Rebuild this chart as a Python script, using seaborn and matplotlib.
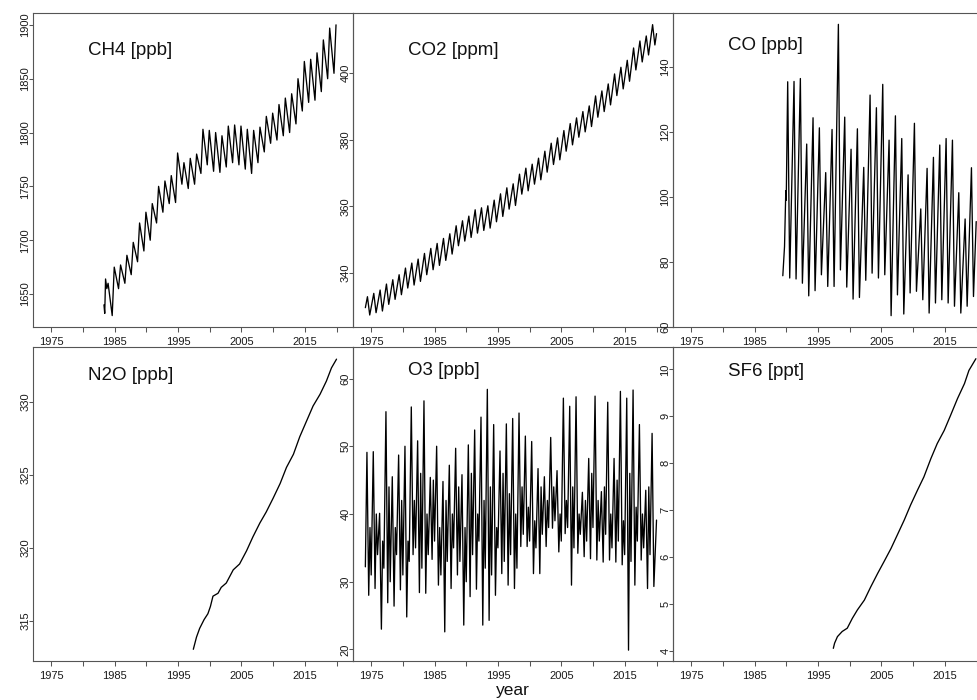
import numpy as np
import pandas as pd
import matplotlib
matplotlib.use("Agg")
import matplotlib.pyplot as plt
import seaborn as sns

# ---------------- data ----------------
# CH4 [ppb]: irregular start, then yearly seasonal minimum / maximum
ch4_head_t = [1983.30, 1983.42, 1983.55, 1983.75, 1983.95]
ch4_head_v = [1640, 1632, 1664, 1655, 1660]
ch4_years = list(range(1984, 2020))
ch4_trough = [1630, 1655, 1660, 1668, 1680, 1690, 1700, 1716, 1726, 1734, 1735, 1752,
              1748, 1752, 1762, 1770, 1764, 1763, 1768, 1772, 1770, 1766, 1762, 1772,
              1782, 1790, 1793, 1797, 1800, 1808, 1820, 1828, 1830, 1838, 1850, 1855]
ch4_peak = [1675, 1677, 1686, 1698, 1716, 1726, 1734, 1750, 1755, 1760, 1781, 1772,
            1776, 1780, 1803, 1802, 1800, 1797, 1806, 1807, 1806, 1803, 1802, 1805,
            1815, 1818, 1826, 1832, 1836, 1850, 1866, 1868, 1874, 1886, 1897, 1900]

# CO2 [ppm]: yearly spring maximum / autumn minimum
co2_head_t, co2_head_v = [1974.05], [329.6]
co2_years = list(range(1974, 2020))
co2_peak = [332.9, 333.9, 334.9, 336.7, 338.0, 339.5, 341.5, 343.0, 344.2, 345.9,
            347.4, 348.9, 350.4, 351.8, 354.2, 355.7, 357.1, 359.0, 359.6, 360.2,
            361.9, 363.8, 365.6, 366.8, 369.7, 371.5, 372.7, 374.5, 376.6, 379.0,
            380.6, 382.8, 384.9, 386.6, 388.5, 390.2, 393.2, 394.7, 396.8, 399.8,
            401.8, 403.9, 407.6, 409.7, 411.2, 414.6]
co2_trough = [327.4, 328.1, 328.6, 330.6, 332.1, 333.5, 335.5, 336.4, 337.5, 339.5,
              341.0, 342.3, 343.8, 345.7, 348.2, 349.6, 350.7, 352.0, 352.8, 353.5,
              355.4, 357.0, 359.2, 360.3, 363.7, 364.7, 366.7, 368.0, 370.3, 372.6,
              374.0, 376.6, 378.5, 380.8, 382.4, 384.0, 386.8, 388.5, 390.5, 393.3,
              395.3, 397.6, 401.0, 403.4, 405.5, 408.5]
co2_tail_t, co2_tail_v = [2020.0], [411.9]

# CO [ppb]
co_head_t = [1989.43, 1989.70, 1989.90, 1989.97]
co_head_v = [75.7, 84.7, 101.9, 99.0]
co_years = list(range(1990, 2020))
co_peak = [135.5, 135.6, 136.5, 116.3, 124.4, 121.3, 107.5, 120.8, 153.2, 124.6,
           114.7, 121.0, 109.1, 131.4, 127.5, 134.7, 117.5, 125.0, 118.0, 106.8,
           122.7, 96.3, 108.8, 112.2, 116.0, 118.0, 117.5, 101.3, 93.2, 109.0]
co_trough = [75.0, 74.7, 73.4, 69.5, 71.1, 76.0, 72.4, 72.4, 77.5, 72.2,
             68.5, 69.0, 74.3, 76.5, 75.0, 76.0, 63.4, 69.8, 63.9, 70.4,
             70.9, 68.3, 64.2, 67.3, 68.3, 67.3, 66.3, 64.2, 66.3, 69.3]
co_tail_t, co_tail_v = [2019.95], [92.4]

# N2O [ppb]
n2o_t = [1997.4, 1997.9, 1998.4, 1999.1, 1999.7, 2000.1, 2000.5, 2001.3, 2001.8, 2002.6,
         2003.7, 2004.7, 2005.8, 2006.8, 2007.9, 2008.9, 2010.0, 2011.1, 2012.1, 2013.2,
         2014.2, 2015.3, 2016.3, 2017.4, 2018.4, 2019.2, 2020.0]
n2o_v = [313.07, 313.9, 314.5, 315.1, 315.5, 316.0, 316.7, 316.9, 317.3, 317.6,
         318.5, 318.9, 319.8, 320.75, 321.7, 322.45, 323.4, 324.4, 325.5, 326.4,
         327.6, 328.7, 329.7, 330.5, 331.4, 332.3, 332.9]

# O3 [ppb]
o3_head_t, o3_head_v = [1974.05], [32.2]
o3_years = list(range(1974, 2020))
o3_peak = [49.1, 49.2, 40.1, 55.1, 45.5, 48.7, 50.0, 55.8, 50.8, 56.7, 45.4, 50.0,
           44.8, 47.2, 49.7, 45.8, 50.2, 52.4, 54.3, 58.4, 53.2, 49.3, 53.3, 54.1,
           54.9, 51.5, 50.7, 46.7, 45.5, 51.3, 46.4, 57.1, 55.9, 57.3, 43.2, 48.2,
           57.4, 43.3, 56.5, 48.2, 58.1, 57.1, 58.3, 53.2, 43.5, 51.9]
o3_trough = [28.0, 29.0, 23.0, 26.9, 26.4, 28.8, 24.8, 34.0, 28.4, 28.3, 33.3, 29.5,
             22.6, 29.0, 31.0, 23.6, 27.8, 28.9, 23.6, 24.3, 28.0, 31.2, 29.5, 29.0,
             35.2, 35.2, 31.2, 31.2, 35.2, 37.9, 34.4, 37.1, 29.5, 34.2, 33.7, 33.4,
             33.2, 32.9, 33.2, 32.9, 32.5, 19.9, 29.5, 33.2, 29.0, 29.3]
o3_mid = [38, 40, 36, 44, 38, 42, 36, 42, 46, 40, 45, 38, 42, 40, 44, 38, 46, 40,
          42, 44, 38, 46, 43, 40, 44, 41, 39, 44, 42, 44, 40, 42, 44, 40, 42, 46,
          42, 44, 40, 45, 39, 46, 41, 40, 44]
o3_low2 = [31, 34, 32, 30, 34, 31, 33, 35, 32, 34, 36, 31, 33, 35, 33, 30, 34, 36,
           32, 31, 35, 33, 34, 32, 37, 36, 35, 37, 38, 39, 36, 38, 35, 37, 36, 38,
           36, 37, 35, 36, 34, 33, 36, 35, 34]
o3_tail_t, o3_tail_v = [2020.0], [39.1]

# SF6 [ppt]
sf6_t = [1997.4, 1997.6, 1998.05, 1998.8, 1999.6, 2000.4, 2001.2, 2002.3, 2003.3, 2004.4,
         2005.4, 2006.5, 2007.5, 2008.6, 2009.6, 2010.7, 2011.7, 2012.8, 2013.8, 2014.9,
         2015.9, 2017.0, 2018.1, 2018.8, 2019.9]
sf6_v = [4.05, 4.16, 4.30, 4.41, 4.48, 4.69, 4.87, 5.08, 5.36, 5.65,
         5.90, 6.18, 6.47, 6.79, 7.11, 7.43, 7.71, 8.10, 8.42, 8.70,
         9.02, 9.38, 9.70, 9.98, 10.23]

panel_labels = ["CH4 [ppb]", "CO2 [ppm]", "CO [ppb]", "N2O [ppb]", "O3 [ppb]", "SF6 [ppt]"]
y_ticks = [[1650, 1700, 1750, 1800, 1850, 1900], [340, 360, 380, 400],
           [60, 80, 100, 120, 140], [315, 320, 325, 330],
           [20, 30, 40, 50, 60], [4, 5, 6, 7, 8, 9, 10]]
y_limits = [(1619.4, 1911.0), (323.8, 418.1), (59.9, 156.7),
            (312.27, 333.73), (18.3, 64.65), (3.78, 10.48)]
x_ticks = [1975, 1980, 1985, 1990, 1995, 2000, 2005, 2010, 2015, 2020]
x_tick_labels = ["1975", "", "1985", "", "1995", "", "2005", "", "2015", ""]
x_limits = (1972.1, 2022.6)


def seasonal(head_t, head_v, years, first, second, off1, off2, tail_t=(), tail_v=()):
    t, v = list(head_t), list(head_v)
    for i, y in enumerate(years):
        t += [y + off1, y + off2]
        v += [first[i], second[i]]
    return pd.DataFrame({"t": t + list(tail_t), "v": v + list(tail_v)})


ch4 = seasonal(ch4_head_t, ch4_head_v, ch4_years, ch4_trough, ch4_peak, 0.60, 0.92)
co2 = seasonal(co2_head_t, co2_head_v, co2_years, co2_peak, co2_trough, 0.38, 0.74,
               co2_tail_t, co2_tail_v)
co = seasonal(co_head_t, co_head_v, co_years, co_peak, co_trough, 0.20, 0.52,
              co_tail_t, co_tail_v)
n2o = pd.DataFrame({"t": n2o_t, "v": n2o_v})
sf6 = pd.DataFrame({"t": sf6_t, "v": sf6_v})

o3_t, o3_v = list(o3_head_t), list(o3_head_v)
for i, y in enumerate(o3_years):
    o3_t += [y + 0.30, y + 0.58]
    o3_v += [o3_peak[i], o3_trough[i]]
    if i < len(o3_mid):
        o3_t += [y + 0.78, y + 0.97]
        o3_v += [o3_mid[i], o3_low2[i]]
o3 = pd.DataFrame({"t": o3_t + o3_tail_t, "v": o3_v + o3_tail_v})

series = [ch4, co2, co, n2o, o3, sf6]

# ---------------- figure ----------------
sns.set_style("ticks")
plt.rcParams["font.family"] = ["Liberation Sans", "DejaVu Sans"]

W, H = 978, 700
fig = plt.figure(figsize=(W / 100, H / 100), dpi=100)
col_left = [33, 353, 673]
row_top = [13, 347]
pw, ph = 320, 314
label_top_offset = [42, 42, 37, 33, 28, 29]

for k, df in enumerate(series):
    r, c = divmod(k, 3)
    ax = fig.add_axes([col_left[c] / W, 1 - (row_top[r] + ph) / H, pw / W, ph / H])
    ax.set_facecolor("none")
    sns.lineplot(data=df, x="t", y="v", ax=ax, color="black", linewidth=0.95,
                 estimator=None, sort=False)
    ax.set_xlim(*x_limits)
    ax.set_ylim(*y_limits[k])
    ax.set_xticks(x_ticks)
    ax.set_xticklabels(x_tick_labels)
    ax.set_yticks(y_ticks[k])
    ax.set_yticklabels([str(v) for v in y_ticks[k]])
    ax.set_xlabel("")
    ax.set_ylabel("")
    for sp in ax.spines.values():
        sp.set_visible(True)
        sp.set_color("#555555")
        sp.set_linewidth(0.8)
    ax.tick_params(axis="x", direction="out", length=3.6, width=0.75, pad=3.4,
                   labelsize=8, colors="#555555", labelcolor="#1a1a1a")
    ax.tick_params(axis="y", direction="out", length=2.9, width=0.75, pad=-1.0,
                   labelsize=8, labelrotation=90, colors="#555555", labelcolor="#1a1a1a")
    for lab in ax.get_yticklabels():
        lab.set_va("center")
    ax.text(55 / pw, 1 - label_top_offset[k] / ph, panel_labels[k],
            transform=ax.transAxes, ha="left", va="baseline", fontsize=13.5,
            color="#111111")

fig.text(513 / W, 1 - 695.5 / H, "year", ha="center", va="baseline", fontsize=12.5,
         color="#111111")

fig.savefig("out.png", dpi=100)
